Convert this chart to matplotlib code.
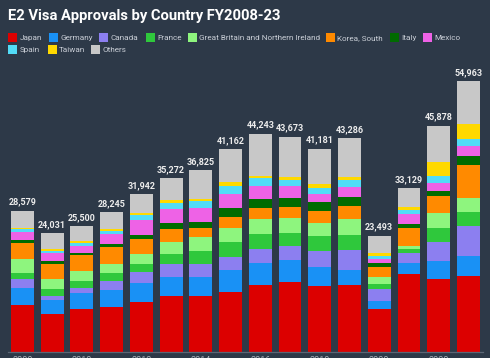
import matplotlib
matplotlib.use('Agg')
from matplotlib import pyplot as plt
from matplotlib.patches import Rectangle

# data (FY2008 .. FY2023)
years = [str(y) for y in range(2008, 2024)]
totals = [28579, 24031, 25500, 28245, 31942, 35272, 36825, 41162,
          44243, 43673, 41181, 43286, 23493, 33129, 45878, 54963]

japan = [9480, 7650, 8600, 9000, 10020, 11240, 11310, 12120,
         13480, 14220, 13270, 13540, 8600, 15710, 14760, 15300]
germany = [3520, 2775, 3250, 3520, 3995, 3925, 3860, 4400,
           4470, 4335, 3925, 3115, 1560, 2370, 3655, 4130]
canada = [1690, 950, 1015, 1895, 2100, 2570, 2710, 2710,
          2845, 2845, 3180, 4060, 2570, 1895, 3860, 6025]
france = [1355, 1355, 1560, 1490, 1690, 2165, 2440, 3045,
          3180, 2710, 3045, 3045, 1085, 950, 2775, 2980]
britain = [2775, 2100, 1960, 1895, 2030, 2435, 2845, 2910,
           2910, 3045, 2775, 3250, 1355, 540, 3115, 2845]
korea = [3320, 2980, 3250, 3385, 3045, 2505, 1965, 2235,
         2300, 2165, 2370, 2570, 1965, 3655, 3520, 6635]
italy = [540, 610, 475, 675, 880, 1220, 1220, 1830,
         1895, 1830, 1895, 1830, 880, 745, 950, 1760]
mexico = [1560, 1560, 1420, 1965, 2980, 2980, 2845, 2710,
          2640, 2440, 1490, 2030, 810, 2030, 1690, 2165]
spain = [610, 475, 475, 745, 1015, 1150, 1285, 1760,
         1490, 1355, 1285, 1355, 610, 810, 1420, 1285]
taiwan = [340, 340, 475, 270, 475, 675, 540, 810,
          475, 610, 745, 675, 610, 675, 2775, 3180]
others = [3389, 3236, 3020, 3405, 3712, 4407, 5805, 6632,
          8558, 8118, 7201, 7816, 3448, 3749, 7358, 8658]

names = ['Japan', 'Germany', 'Canada', 'France',
         'Great Britain and Northern Ireland', 'Korea, South', 'Italy',
         'Mexico', 'Spain', 'Taiwan', 'Others']
series = [japan, germany, canada, france, britain, korea, italy,
          mexico, spain, taiwan, others]
colors = ['#dc0000', '#1991f5', '#8c7ff0', '#2fc83c', '#8ef57e', '#ff8a00',
          '#006b00', '#ee62e6', '#52dcf7', '#ffd900', '#c8c8c8']

bg = '#2d3948'
W, H = 490, 358

fig = plt.figure(figsize=(4.9, 3.58), dpi=100, facecolor=bg)
ax = fig.add_axes([7.6 / W, 6.5 / H, 475.7 / W, 295.3 / H])
ax.set_facecolor(bg)

x = list(range(len(years)))
bottom = [0] * len(years)
for vals, c, n in zip(series, colors, names):
    ax.bar(x, vals, 0.77, bottom=bottom, color=c, label=n, linewidth=0)
    bottom = [b + v for b, v in zip(bottom, vals)]

for i, t in enumerate(totals):
    ax.annotate(f"{t:,}", (i, bottom[i]), xytext=(0, 3),
                textcoords='offset points', ha='center', va='bottom',
                fontsize=6.5, fontweight='bold', color='#ececec',
                family='Roboto')

ax.set_xlim(-0.5, 15.5)
ax.set_ylim(0, 60000)
ax.set_yticks([])
# the year labels sit at the bottom edge and are mostly cut off, as in the source
ax.set_xticks(x[::2])
ax.set_xticklabels(years[::2], family='Roboto', fontsize=6.5, color='#aab1ba')
ax.tick_params(axis='x', length=0, pad=3.5)
for s in ['top', 'left', 'right']:
    ax.spines[s].set_visible(False)
ax.spines['bottom'].set_color('#5b6675')
ax.spines['bottom'].set_linewidth(0.9)

# title
fig.text(8 / W, 1 - 16 / H, 'E2 Visa Approvals by Country FY2008-23',
         family='Roboto', fontweight='bold', fontsize=10.6, color='white',
         ha='left', va='center')

# legend drawn by hand, two rows
rows = [(37.7, [8.3, 49, 99.3, 145.7, 187.7, 325.7, 390, 422.7]),
        (49.7, [8.3, 47.7, 91])]
k = 0
for yc, xs in rows:
    for xm in xs:
        fig.patches.append(Rectangle((xm / W, 1 - (yc + 4.5) / H), 9 / W, 9 / H,
                                     transform=fig.transFigure,
                                     facecolor=colors[k], edgecolor='none'))
        fig.text((xm + 11.5) / W, 1 - yc / H, names[k], family='Roboto',
                 fontsize=5.9, color='#c9ced6', ha='left', va='center')
        k += 1

fig.savefig('out.png', dpi=100, facecolor=bg)
